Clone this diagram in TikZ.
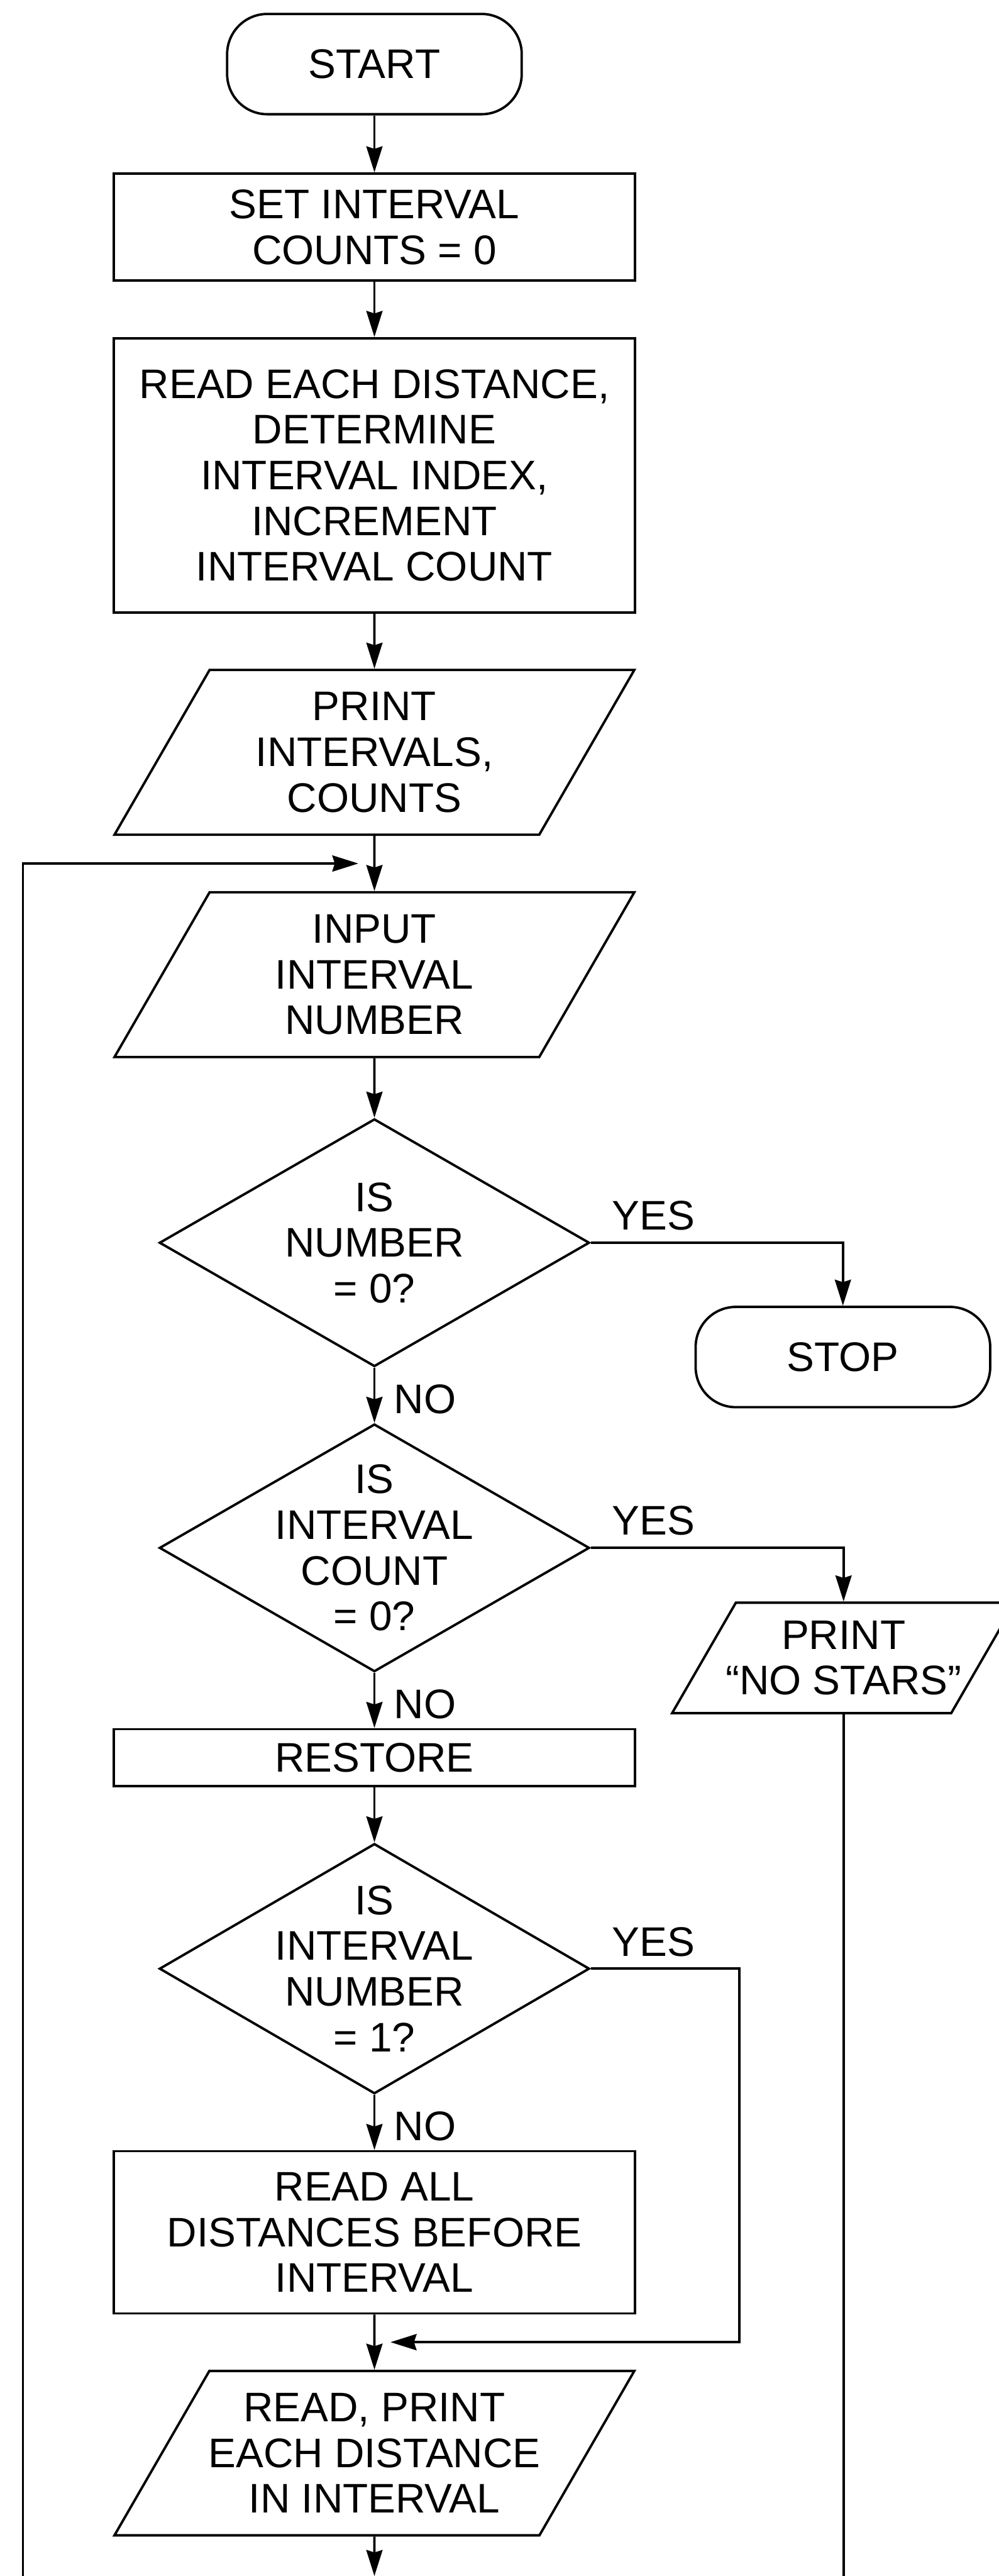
\documentclass[tikz,border=0pt]{standalone}
\usepackage{fontspec}
\setmainfont{Liberation Sans}
\usetikzlibrary{shapes.geometric,arrows.meta,positioning,calc}

\begin{document}
\begin{tikzpicture}[
    node distance=0.89cm,
    line width=1.1pt,
    font=\fontsize{19pt}{21pt}\selectfont,
    term/.style={rectangle, draw, rounded corners=6.5mm, minimum width=4.76cm, minimum height=1.62cm},
    proc/.style={rectangle, draw, align=center, minimum width=8.42cm},
    io/.style={trapezium, trapezium left angle=60, trapezium right angle=120, trapezium stretches body, draw, align=center, inner xsep=-0.2cm, inner ysep=0.36cm, minimum width=8.4cm},
    test/.style={diamond, draw, align=center, inner sep=-5mm, minimum width=6.95cm, minimum height=4cm},
    tag/.style={inner sep=0pt},
    arrow/.style={-{Stealth[length=4.2mm, width=2.6mm, inset=0.4mm]}},
]
    \useasboundingbox (0,0) rectangle (16.14,-41.61);
    \coordinate (pagefoot) at (0,-41.61);

    % main column
    \node[term] (start) at (6.05,-1.035) {START};
    \node[proc, below=0.92cm of start, minimum height=1.73cm] (setcount) {SET INTERVAL\\COUNTS = 0};
    \node[proc, below=of setcount, minimum height=4.43cm] (tally) {READ EACH DISTANCE,\\DETERMINE\\INTERVAL INDEX,\\INCREMENT\\INTERVAL COUNT};
    \node[io, below=of tally] (printtab) {PRINT\\INTERVALS,\\COUNTS};
    \node[io, below=of printtab] (getnum) {INPUT\\INTERVAL\\NUMBER};
    \node[test, below=0.96cm of getnum] (iszero) {IS\\NUMBER\\= 0?};
    \node[test, below=of iszero] (isempty) {IS\\INTERVAL\\COUNT\\= 0?};
    \node[proc, below=of isempty, minimum height=0.92cm] (restore) {RESTORE};
    \node[test, below=of restore, minimum height=4.04cm] (isfirst) {IS\\INTERVAL\\NUMBER\\= 1?};
    \node[proc, below=of isfirst, minimum height=2.62cm] (skipdist) {READ ALL\\DISTANCES BEFORE\\INTERVAL};
    \node[io, below=of skipdist] (listdist) {READ, PRINT\\EACH DISTANCE\\IN INTERVAL};

    % side column
    \node[term] (stop) at (13.62,-21.92) {STOP};
    \node[io, inner ysep=0.29cm, minimum width=5.54cm] (nostars) at (13.63,-26.78) {PRINT\\“NO STARS”};

    % branch labels
    \node[tag, above right=0.18cm and 0.33cm of iszero.east] (yes1) {YES};
    \node[tag, below right=0.25cm and 0.3cm of iszero.south] (no1) {NO};
    \node[tag, above right=0.18cm and 0.33cm of isempty.east] (yes2) {YES};
    \node[tag, below right=0.25cm and 0.3cm of isempty.south] (no2) {NO};
    \node[tag, above right=0.18cm and 0.33cm of isfirst.east] (yes3) {YES};
    \node[tag, below right=0.25cm and 0.3cm of isfirst.south] (no3) {NO};

    \coordinate (loopin) at ($(printtab.south)!0.5!(getnum.north)$);
    \coordinate (rejoin) at ($(skipdist.south)!0.5!(listdist.north)$);
    \coordinate (loopfoot) at (0.37,-41.61);

    \draw[arrow] (start) -- (setcount);
    \draw[arrow] (setcount) -- (tally);
    \draw[arrow] (tally) -- (printtab);
    \draw[arrow] (printtab) -- (getnum);
    \draw[arrow] (getnum) -- (iszero);
    \draw[arrow] (iszero) -- (isempty);
    \draw[arrow] (isempty) -- (restore);
    \draw[arrow] (restore) -- (isfirst);
    \draw[arrow] (isfirst) -- (skipdist);
    \draw[arrow] (skipdist) -- (listdist);
    \draw[arrow] (listdist) -- (listdist |- pagefoot);

    \draw[arrow] (iszero.east) -| (stop.north);
    \draw[arrow] (isempty.east) -| (nostars.north);
    \draw (nostars.south) -- (nostars.south |- pagefoot);
    \draw[arrow, shorten >=2.6mm] (isfirst.east) -- ++(2.4,0) |- (rejoin);
    \draw[arrow, shorten >=2.6mm] (loopfoot) |- (loopin);
\end{tikzpicture}
\end{document}
